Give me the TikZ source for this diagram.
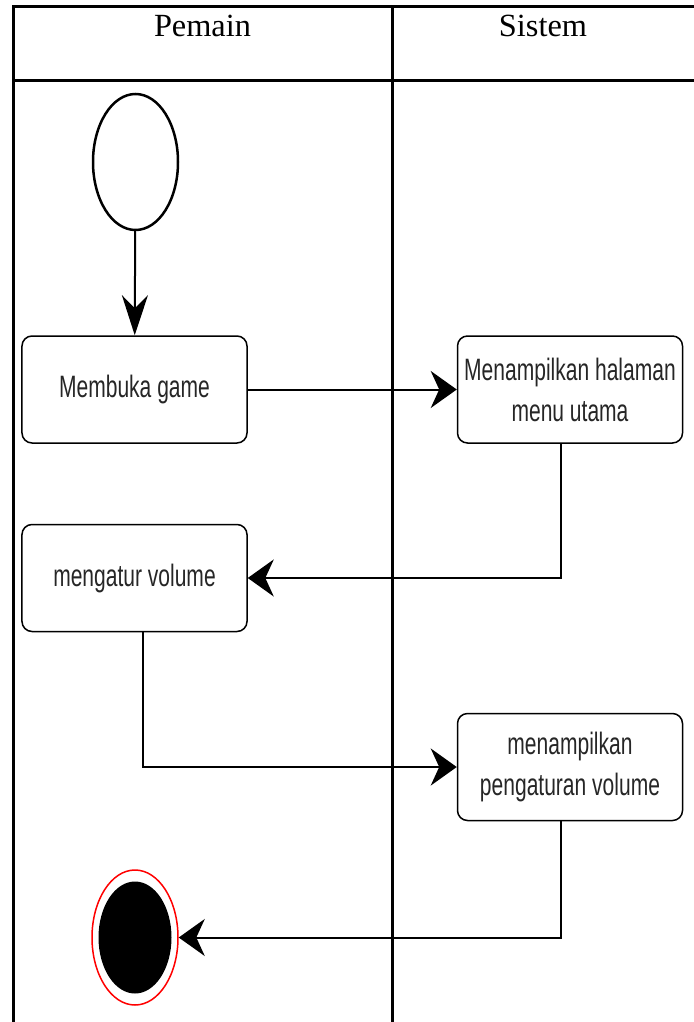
\documentclass[tikz,border=0pt]{standalone}
\usepackage{fontspec}
\setmainfont{Liberation Serif}
\newfontfamily\actfont[FakeStretch=0.68]{Liberation Sans}
\usetikzlibrary{arrows.meta,positioning,shapes.geometric}

\begin{document}
\begin{tikzpicture}[x=0.2mm, y=-0.2mm,
  lane/.style={line width=0.6mm},
  lanetitle/.style={anchor=base, inner sep=0pt, font=\fontsize{18.4pt}{22pt}\selectfont},
  act/.style={draw, rounded corners=2mm, line width=0.3mm, align=center,
              minimum width=45mm, minimum height=21.4mm, inner sep=1pt,
              text=black!85, font=\actfont\fontsize{17.6pt}{23.3pt}\selectfont},
  flow/.style={line width=0.4mm},
  downflow/.style={flow, -{Stealth[length=8mm, width=5.2mm]}},
  >={Stealth[length=5.2mm, width=7.4mm]}]
  \useasboundingbox (0,0) rectangle (694,1022);

  % swimlanes
  \draw[lane] (13,1022) -- (13,7) -- (694,7);
  \draw[lane] (13,81) -- (694,81);
  \draw[lane] (392,7) -- (392,1022);
  \node[lanetitle] (pemain) at (202.5,37) {Pemain};
  \node[lanetitle] (sistem) at (543,37) {Sistem};

  % start
  \node[ellipse, draw, line width=0.5mm, minimum width=17mm, minimum height=27.2mm,
        inner sep=0pt] (start) at (135.5,162) {};

  % activities
  \node[act] (open) at (134.5,389.5) {Membuka game};
  \node[act, right=41.8mm of open] (menu) {Menampilkan halaman\\menu utama};
  \node[act, below=16mm of open] (volume) {mengatur volume};
  \node[act, below=53.8mm of menu] (setting) {menampilkan\\pengaturan volume};

  % end
  \node[ellipse, draw=red, line width=0.3mm, minimum width=17.2mm, minimum height=27mm,
        inner sep=0pt] (stop) at (135,937.5) {};
  \node[ellipse, fill=black, minimum width=14.6mm, minimum height=22.4mm,
        inner sep=0pt] (stopdot) at (stop.center) {};

  % flows
  \draw[downflow] (start) -- (open);
  \draw[flow, ->] (open) -- (menu);
  \draw[flow, ->] ([xshift=-1.9mm]menu.south) |- (volume.east);
  \draw[flow, ->] ([xshift=1.7mm]volume.south) |- (setting.west);
  \draw[flow, ->] ([xshift=-1.9mm]setting.south) |- (stop.east);
\end{tikzpicture}
\end{document}
